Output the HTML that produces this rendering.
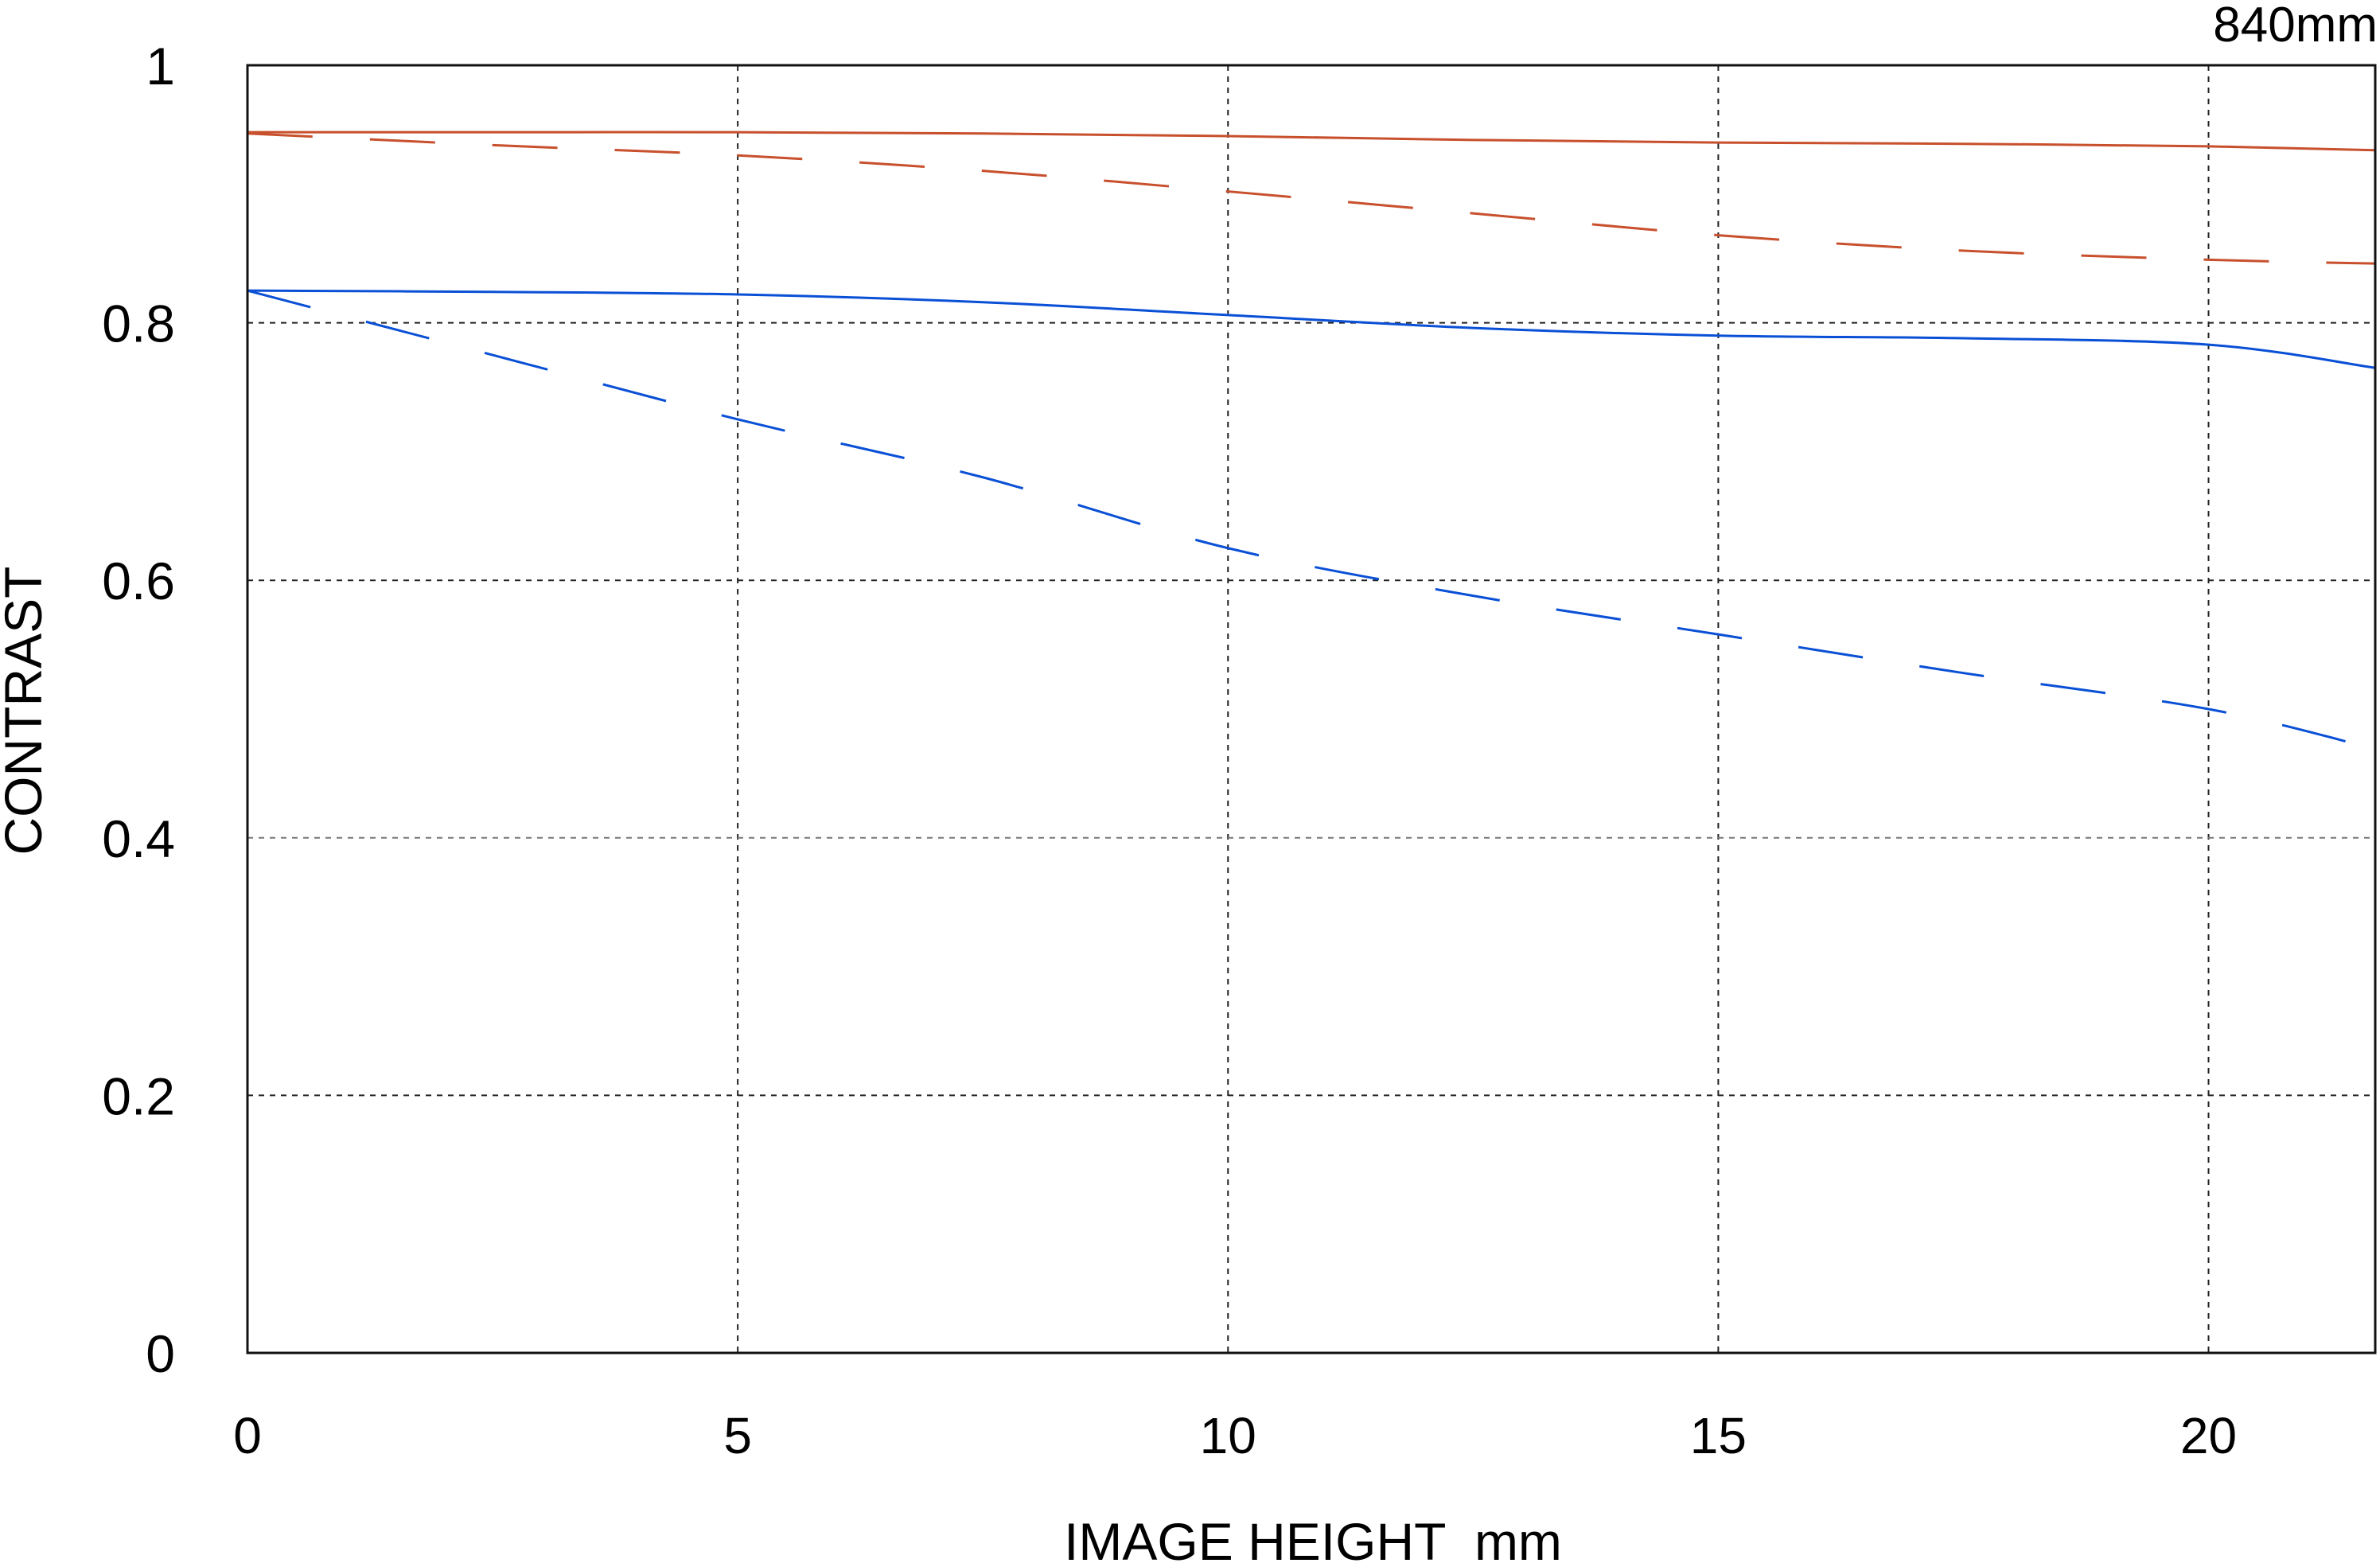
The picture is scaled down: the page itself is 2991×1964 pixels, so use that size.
<!DOCTYPE html>
<html><head><meta charset="utf-8"><style>
html,body{margin:0;padding:0;background:#fff}
svg{display:block}
text{font-family:"Liberation Sans",sans-serif;fill:#000}
</style></head><body>
<svg id="chart" width="2991" height="1964" viewBox="0 0 2991 1964" xmlns="http://www.w3.org/2000/svg">
<g id="grid"></g>
<g id="series"></g>
<rect x="311" y="82" width="2674" height="1618" fill="none" stroke="#111" stroke-width="3"/>
<g id="ticks"></g>
<text x="0" y="0" font-size="66" text-anchor="middle" transform="translate(52,893) rotate(-90)">CONTRAST</text>
<text x="1650" y="1960" font-size="66" text-anchor="middle" style="white-space:pre">IMAGE HEIGHT  mm</text>
<text x="2988" y="52" font-size="62" text-anchor="end">840mm</text>
</svg>
<script>
const xTicks=[0,5,10,15,20];
const xTickLabels=["0","5","10","15","20"];
const yTicks=[0,0.2,0.4,0.6,0.8,1];
const yTickLabels=["0","0.2","0.4","0.6","0.8","1"];
const xs=[0,2.5,5,7.5,10,12.5,15,17.5,20,21.7];
const redSolid=[0.948,0.948,0.948,0.947,0.945,0.942,0.940,0.939,0.937,0.934];
const redDashed=[0.947,0.938,0.930,0.918,0.902,0.885,0.868,0.856,0.849,0.846];
const blueSolid=[0.825,0.824,0.822,0.816,0.806,0.796,0.790,0.788,0.783,0.765];
const blueDashed=[0.825,0.775,0.725,0.680,0.625,0.588,0.558,0.528,0.500,0.469];

const X0=311,X1=2985,Y0=1700,Y1=82,XMAX=21.7;
const sx=v=>X0+v/XMAX*(X1-X0);
const sy=v=>Y0-v*(Y0-Y1);
const NS="http://www.w3.org/2000/svg";
const grid=document.getElementById('grid'),ticks=document.getElementById('ticks'),ser=document.getElementById('series');
function mk(tag,attrs,parent){const e=document.createElementNS(NS,tag);for(const k in attrs)e.setAttribute(k,attrs[k]);parent.appendChild(e);return e;}
xTicks.forEach((t,i)=>{
  if(t>0){const l=mk('line',{x1:sx(t),x2:sx(t),y1:Y1,y2:Y0,stroke:'#222','stroke-width':2,'stroke-dasharray':'7 7'},grid);
  
  }
  const tx=mk('text',{x:sx(t),y:1826,'font-size':64,'text-anchor':'middle'},ticks);
  tx.textContent=xTickLabels[i];
  
  
});
yTicks.forEach((t,i)=>{
  if(t>0&&t<1){const l=mk('line',{x1:X0,x2:X1,y1:sy(t),y2:sy(t),stroke:t==0.4?'#777':'#222','stroke-width':2,'stroke-dasharray':'7 7'},grid);
  
  }
  const tx=mk('text',{x:220,y:sy(t)+24,'font-size':66,'text-anchor':'end'},ticks);
  tx.textContent=yTickLabels[i];
  
  
});
function path(vals){
  const pts=xs.map((x,i)=>[sx(x),sy(vals[i])]);
  let d='M'+pts[0][0]+','+pts[0][1];
  for(let i=0;i<pts.length-1;i++){
    const p0=pts[Math.max(0,i-1)],p1=pts[i],p2=pts[i+1],p3=pts[Math.min(pts.length-1,i+2)];
    const c1=[p1[0]+(p2[0]-p0[0])/6,p1[1]+(p2[1]-p0[1])/6],c2=[p2[0]-(p3[0]-p1[0])/6,p2[1]-(p3[1]-p1[1])/6];
    d+=' C'+c1[0]+','+c1[1]+' '+c2[0]+','+c2[1]+' '+p2[0]+','+p2[1];
  }
  return d;
}
const defs=[[redSolid,'#c8502d',null,'red-solid-line'],[redDashed,'#c8502d','82 72','red-dashed-line'],[blueSolid,'#0a50d6',null,'blue-solid-line'],[blueDashed,'#0a50d6','82 72','blue-dashed-line']];
defs.forEach(s=>{
  const a={d:path(s[0]),fill:'none',stroke:s[1],'stroke-width':3};
  if(s[2])a['stroke-dasharray']=s[2];
  const p=mk('path',a,ser);
  
  
});
</script>
</body></html>
